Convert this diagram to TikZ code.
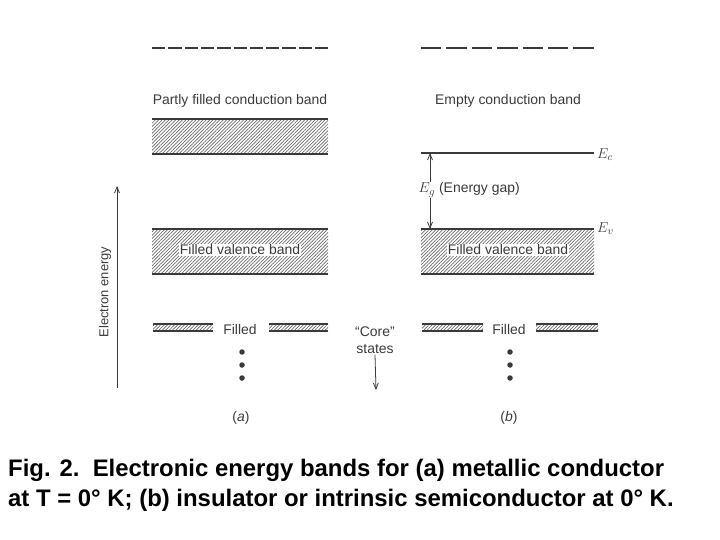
\documentclass[tikz,border=0pt]{standalone}
\usepackage{fontspec}
\setmainfont{Liberation Sans}
\usetikzlibrary{patterns.meta,arrows.meta}
\definecolor{ink}{HTML}{3A3A3A}
\tikzset{
  band/.style={draw=none, pattern={Lines[angle=45, distance=2.4bp, line width=0.7bp]}, pattern color=ink!75, inner sep=0, outer sep=0},
  bedge/.style={draw=ink, line width=1.8bp},
  lbl/.style={text=ink, font=\fontsize{14}{16}\selectfont, inner sep=1pt},
  wlbl/.style={lbl, fill=white},
  mlbl/.style={text=ink, font=\fontsize{15}{17}\selectfont, anchor=west, inner sep=0},
  thinl/.style={draw=ink, line width=0.8bp},
  arr/.style={thinl, -{Straight Barb[length=6bp,width=5bp]}},
  dotn/.style={circle, fill=ink, inner sep=0, minimum size=5.5bp},
  captxt/.style={font=\bfseries\fontsize{24}{30}\selectfont, anchor=base west, inner sep=0}
}
\begin{document}
\begin{tikzpicture}[x=1bp,y=-1bp]
\useasboundingbox (0,0) rectangle (720,540);
% ---- (a) ----
\coordinate (atl) at (152,48); \coordinate (atr) at (328,48);
\draw[thinl, line width=1.1bp, dash pattern=on 13.3bp off 3bp] (atl) -- (atr);
\node[lbl] (apc) at (240,101) {Partly filled conduction band};
\node[band, minimum width=176bp, minimum height=35bp] (acb) at (240,136.5) {};
\draw[bedge] (acb.north west) -- (acb.north east);
\draw[bedge] (acb.south west) -- (acb.south east);
\node[band, minimum width=176bp, minimum height=45bp] (avb) at (240,251.5) {};
\draw[bedge] (avb.north west) -- (avb.north east);
\draw[bedge] (avb.south west) -- (avb.south east);
\node[wlbl] (avl) at (240,250) {Filled valence band};
\node[band, minimum width=60bp, minimum height=7bp] (acl) at (183,327.5) {};
\draw[bedge, line width=1.3bp] (acl.north west) -- (acl.north east);
\draw[bedge, line width=1.3bp] (acl.south west) -- (acl.south east);
\node[band, minimum width=59bp, minimum height=7bp] (acr) at (298.5,327.5) {};
\draw[bedge, line width=1.3bp] (acr.north west) -- (acr.north east);
\draw[bedge, line width=1.3bp] (acr.south west) -- (acr.south east);
\node[lbl] (afl) at (240,330) {Filled};
\node[dotn] (ad1) at (242,352) {};
\node[dotn] (ad2) at (242,365) {};
\node[dotn] (ad3) at (242,378) {};
\node[lbl] (alab) at (241,418) {(\textit{a})};
% energy axis
\coordinate (eb) at (117,388); \coordinate (et) at (117,186);
\draw[arr] (eb) -- (et);
\node[lbl, rotate=90, font=\fontsize{13}{15}\selectfont] (elab) at (105,292) {Electron energy};
% ---- (b) ----
\coordinate (btl) at (421,48); \coordinate (btr) at (594,48);
\draw[thinl, line width=1.1bp, dash pattern=on 20.4bp off 5bp] (btl) -- (btr);
\node[lbl] (bec) at (508,101) {Empty conduction band};
\coordinate (ecl) at (421,153); \coordinate (ecr) at (594,153);
\draw[thinl, line width=1.2bp] (ecl) -- (ecr);
\node[mlbl] (ecn) at (597,155) {$E_c$};
\node[band, minimum width=173bp, minimum height=45bp] (bvb) at (507.5,251.5) {};
\draw[bedge] (bvb.north west) -- (bvb.north east);
\draw[bedge] (bvb.south west) -- (bvb.south east);
\node[mlbl] (evn) at (597,229) {$E_v$};
\coordinate (gt) at (430,153); \coordinate (gb) at (430,229);
\draw[arr] (430,190) -- (gt);
\draw[arr] (430,190) -- (gb);
\node[wlbl, anchor=west, inner sep=0.5bp] (eg) at (418,190) {\fontsize{15}{17}\selectfont$E_g$\fontsize{14}{16}\selectfont\ (Energy gap)};
\node[wlbl] (bvl) at (508,250) {Filled valence band};
\node[band, minimum width=61bp, minimum height=7bp] (bcl) at (452.5,327.5) {};
\draw[bedge, line width=1.3bp] (bcl.north west) -- (bcl.north east);
\draw[bedge, line width=1.3bp] (bcl.south west) -- (bcl.south east);
\node[band, minimum width=62bp, minimum height=7bp] (bcr) at (567,327.5) {};
\draw[bedge, line width=1.3bp] (bcr.north west) -- (bcr.north east);
\draw[bedge, line width=1.3bp] (bcr.south west) -- (bcr.south east);
\node[lbl] (bfl) at (509,330) {Filled};
\node[dotn] (bd1) at (510,352) {};
\node[dotn] (bd2) at (510,365) {};
\node[dotn] (bd3) at (510,378) {};
\node[lbl] (blab) at (509,418) {(\textit{b})};
% core states
\node[lbl, align=center, font=\fontsize{14}{17}\selectfont] (core) at (375,340) {“Core”\\states};
\coordinate (cb) at (376,390);
\draw[arr] (core.south) -- (cb);
% caption
\node[captxt] (c1) at (8,476) {Fig. 2.\ \ Electronic energy bands for (a) metallic conductor};
\node[captxt] (c2) at (8,506) {at T = 0° K; (b) insulator or intrinsic semiconductor at 0° K.};
\end{tikzpicture}
\end{document}
